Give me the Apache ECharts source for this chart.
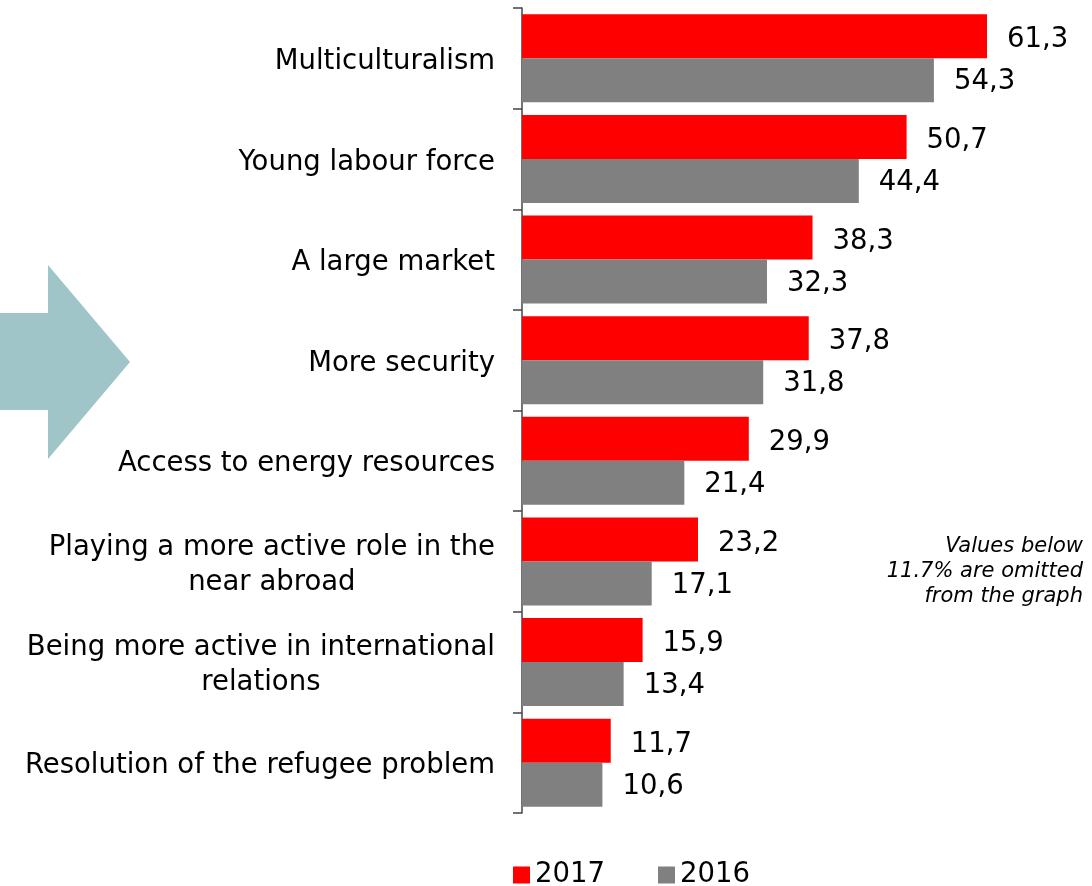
<!DOCTYPE html>
<html>
<head>
<meta charset="utf-8">
<script src="https://cdn.jsdelivr.net/npm/echarts@6/dist/echarts.min.js"></script>
<style>
  html, body { margin: 0; padding: 0; background: #fff; }
  #main { width: 1092px; height: 886px; }
</style>
</head>
<body>
<div id="main"></div>
<script>
var categories = [
    'Multiculturalism',
    'Young labour force',
    'A large market',
    'More security',
    'Access to energy resources',
    'Playing a more active role in the\nnear abroad',
    'Being more active in international\nrelations',
    'Resolution of the refugee problem'
];
var values2017 = [61.3, 50.7, 38.3, 37.8, 29.9, 23.2, 15.9, 11.7];
var values2016 = [54.3, 44.4, 32.3, 31.8, 21.4, 17.1, 13.4, 10.6];
var seriesNames = ['2017', '2016'];
var noteLines = ['Values below', '11.7% are omitted', 'from the graph'];

var font = 'DejaVu Sans, Verdana, sans-serif';
var fs = 27.5;

var myChart = echarts.init(document.getElementById('main'));

// 数值标签用逗号作为小数点
function fmt(p) {
    return p.value.toFixed(1).replace('.', ',');
}

var option = {
    animation: false,
    textStyle: { fontFamily: font },
    grid: {
        left: 522,
        right: 39,
        top: 8,
        height: 805
    },
    legend: {
        left: 513,
        top: 861,
        padding: 0,
        itemWidth: 17,
        itemHeight: 17,
        itemGap: 53,
        icon: 'rect',
        textStyle: { fontSize: fs, color: '#000', fontFamily: font },
        data: seriesNames
    },
    xAxis: {
        type: 'value',
        min: 0,
        max: 70,
        show: false
    },
    yAxis: {
        type: 'category',
        inverse: true,
        data: categories,
        axisLine: { lineStyle: { color: '#444', width: 1.5 } },
        axisTick: { show: true, length: 9, lineStyle: { color: '#444', width: 1.5 } },
        axisLabel: {
            margin: 27,
            color: '#000',
            fontSize: fs,
            fontFamily: font,
            lineHeight: 35,
            padding: [7, 0, 0, 0],
            formatter: function (v) {
                return v.split('\n').map(function (s) { return '{c|' + s + '}'; }).join('\n');
            },
            rich: {
                c: { align: 'center', fontSize: fs, fontFamily: font, color: '#000', lineHeight: 35 }
            }
        }
    },
    series: [
        {
            name: seriesNames[0],
            type: 'bar',
            data: values2017,
            barGap: '0%',
            barCategoryGap: '12.5%',
            itemStyle: { color: '#ff0000' },
            label: {
                show: true,
                position: 'right',
                distance: 20,
                offset: [0, 4],
                fontSize: fs,
                color: '#000',
                fontFamily: font,
                formatter: fmt
            }
        },
        {
            name: seriesNames[1],
            type: 'bar',
            data: values2016,
            itemStyle: { color: '#808080' },
            label: {
                show: true,
                position: 'right',
                distance: 20,
                offset: [0, 2],
                fontSize: fs,
                color: '#000',
                fontFamily: font,
                formatter: fmt
            }
        }
    ],
    graphic: [
        {
            type: 'polygon',
            shape: {
                points: [[0, 313], [48, 313], [48, 265], [130, 362], [48, 459], [48, 410], [0, 410]]
            },
            style: { fill: '#9fc5c8' }
        },
        {
            type: 'text',
            style: {
                x: 1083,
                y: 534,
                text: noteLines.join('\n'),
                align: 'right',
                verticalAlign: 'top',
                fontSize: 21,
                fontStyle: 'italic',
                lineHeight: 25,
                fill: '#000',
                fontFamily: font
            }
        }
    ]
};
myChart.setOption(option);
</script>
</body>
</html>
